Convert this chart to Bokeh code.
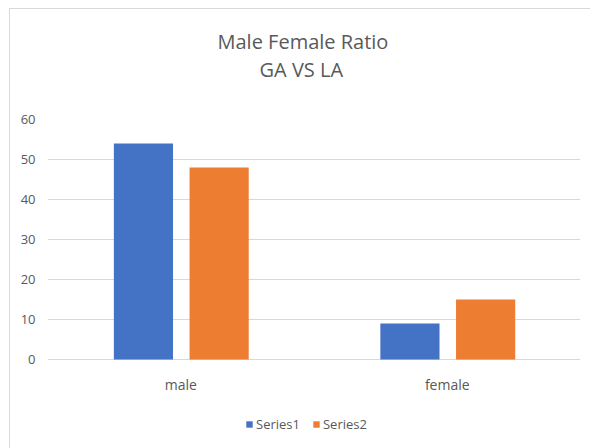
from bokeh.plotting import figure
from bokeh.models import ColumnDataSource, FactorRange, Range1d, Title, Legend, LegendItem, FixedTicker
from bokeh.transform import dodge
from bokeh.core.properties import value
from bokeh.embed import file_html
from bokeh.resources import INLINE

categories = ["male", "female"]
series1 = [54, 9]
series2 = [48, 15]
series_names = ["Series1", "Series2"]
y_ticks = [0, 10, 20, 30, 40, 50, 60]
title_lines = ["Male Female Ratio", "GA VS LA"]

BLUE = "#4472C4"
ORANGE = "#ED7D31"
GRID = "#D9D9D9"
TEXT = "#595959"
FONT = "Open Sans"

source = ColumnDataSource(dict(cat=categories, s1=series1, s2=series2))

# frame spans value 60 (top) down to below the baseline, so the category
# labels and the legend sit inside the drawing area
p = figure(
    x_range=FactorRange(*categories, range_padding=0),
    y_range=Range1d(-20.25, 60),
    frame_width=533, frame_height=321,
    output_backend="svg", toolbar_location=None,
    x_axis_location=None,
    min_border_left=47, min_border_right=10,
    min_border_top=119, min_border_bottom=8,
    outline_line_color=None,
    border_fill_color=None,
    title=None,
)
p.styles = {
    "background": "linear-gradient(#D9D9D9, #D9D9D9) 9px 8px / 1px 100% no-repeat, "
                  "linear-gradient(#D9D9D9, #D9D9D9) 9px 8px / 100% 1px no-repeat, #FFFFFF",
}

r1 = p.vbar(x=dodge("cat", -0.14, range=p.x_range), top="s1", width=0.222,
            source=source, fill_color=BLUE, line_color=None)
r2 = p.vbar(x=dodge("cat", 0.144, range=p.x_range), top="s2", width=0.222,
            source=source, fill_color=ORANGE, line_color=None)

# category labels under the baseline
p.text(x="cat", y=-6.3, text="cat", source=source,
       text_align="center", text_baseline="alphabetic",
       text_font=value(FONT), text_font_size="14px", text_color=TEXT)

p.xgrid.grid_line_color = None
p.ygrid.ticker = FixedTicker(ticks=y_ticks)
p.ygrid.grid_line_color = GRID
p.ygrid.grid_line_width = 1

p.yaxis.ticker = FixedTicker(ticks=y_ticks)
p.yaxis.axis_line_color = None
p.yaxis.major_tick_line_color = None
p.yaxis.minor_tick_line_color = None
p.yaxis.major_tick_out = 0
p.yaxis.major_label_standoff = 12
p.yaxis.major_label_text_font = FONT
p.yaxis.major_label_text_font_size = "13px"
p.yaxis.major_label_text_color = TEXT

# above panel: titles stack outward from the frame
p.add_layout(Title(text=" ", text_font=FONT, text_font_size="20px", standoff=8), "above")
p.add_layout(Title(text=title_lines[1], align="left", offset=212,
                   text_font=FONT, text_font_size="20px", text_font_style="normal",
                   text_color=TEXT, standoff=0), "above")
p.add_layout(Title(text=title_lines[0], align="left", offset=170,
                   text_font=FONT, text_font_size="20px", text_font_style="normal",
                   text_color=TEXT, standoff=-3), "above")

legend = Legend(
    items=[LegendItem(label=series_names[0], renderers=[r1]),
           LegendItem(label=series_names[1], renderers=[r2])],
    location=(198, 7), orientation="horizontal",
    glyph_width=8, glyph_height=8, label_height=12, label_standoff=3,
    spacing=12, padding=0, margin=0,
    border_line_color=None, background_fill_alpha=0,
    label_text_font=FONT, label_text_font_size="13px", label_text_color=TEXT,
)
p.add_layout(legend, "center")

open("out.html", "w").write(file_html(p, INLINE))
